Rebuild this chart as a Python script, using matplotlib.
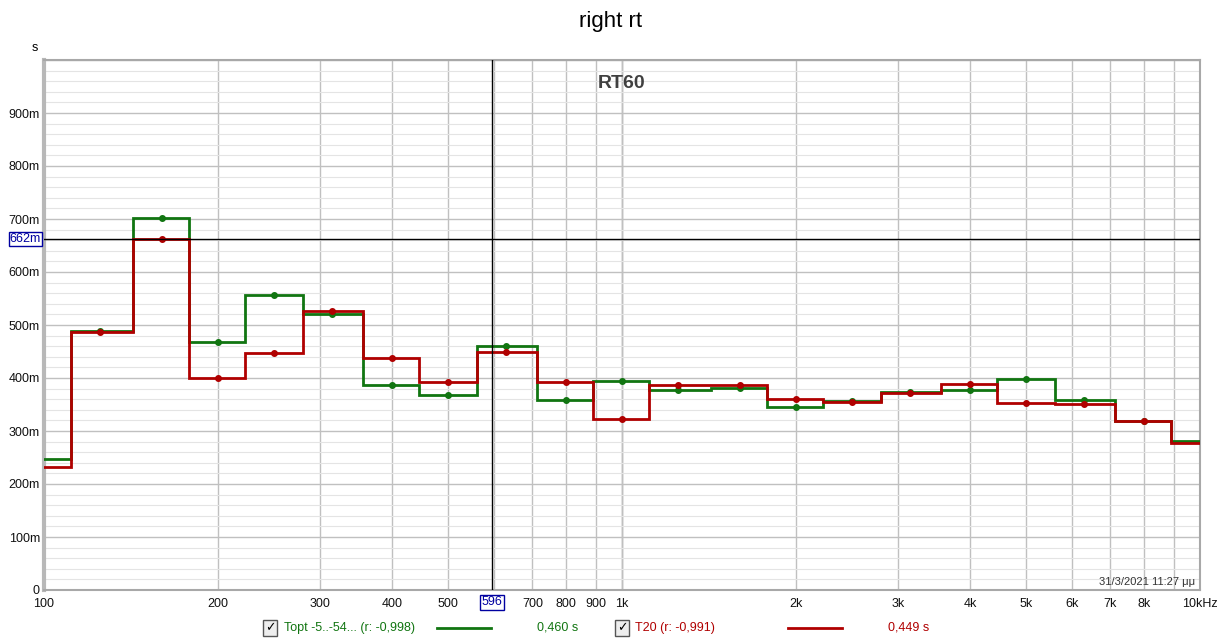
import numpy as np
import matplotlib
matplotlib.use('Agg')
import matplotlib.pyplot as plt
from matplotlib.lines import Line2D

plt.rcParams['font.family'] = ['Liberation Sans', 'DejaVu Sans']

# third-octave band centres (Hz)
bands = [100, 125, 160, 200, 250, 315, 400, 500, 630, 800, 1000, 1250, 1600,
         2000, 2500, 3150, 4000, 5000, 6300, 8000, 10000]
# RT60 in seconds
topt = [0.248, 0.489, 0.702, 0.468, 0.557, 0.521, 0.386, 0.367, 0.461, 0.358, 0.394,
        0.377, 0.382, 0.346, 0.356, 0.374, 0.377, 0.399, 0.358, 0.318, 0.282]
t20 = [0.233, 0.486, 0.662, 0.400, 0.447, 0.527, 0.438, 0.392, 0.449, 0.393, 0.323,
       0.387, 0.387, 0.361, 0.355, 0.371, 0.388, 0.353, 0.351, 0.318, 0.278]

xticks = [100, 200, 300, 400, 500, 600, 700, 800, 900, 1000, 2000, 3000, 4000,
          5000, 6000, 7000, 8000, 9000, 10000]
xlabels = ['100', '200', '300', '400', '500', '', '700', '800', '900', '1k', '2k', '3k',
           '4k', '5k', '6k', '7k', '8k', '', '10kHz']
yticks = [0, 0.1, 0.2, 0.3, 0.4, 0.5, 0.6, 0.7, 0.8, 0.9]
ylabels = ['0', '100m', '200m', '300m', '400m', '500m', '600m', '700m', '800m', '900m']

cursor_f = 596
cursor_v = 0.662

green = '#117511'
red = '#b00000'

fig = plt.figure(figsize=(12.22, 6.42), dpi=100)
ax = fig.add_axes([44 / 1222, 52 / 642, 1156 / 1222, 530 / 642])

# band edges for stair steps
c = np.array(bands, dtype=float)
edges = np.concatenate([c * 10 ** -0.05, [c[-1] * 10 ** 0.05]])

ax.stairs(topt, edges, color=green, lw=2, baseline=None, zorder=4)
ax.plot(bands[1:-1], topt[1:-1], 'o', color=green, ms=4, zorder=5)
ax.stairs(t20, edges, color=red, lw=2, baseline=None, zorder=6)
ax.plot(bands[1:-1], t20[1:-1], 'o', color=red, ms=4, zorder=7)

ax.set_xscale('log')
ax.set_xlim(100, 10000)
ax.set_ylim(0, 1.0)
ax.set_xticks(xticks)
ax.set_xticklabels(xlabels)
ax.xaxis.set_minor_locator(matplotlib.ticker.NullLocator())
ax.set_yticks(yticks)
ax.set_yticklabels(ylabels)
ax.set_yticks(np.arange(0, 1.0, 0.02), minor=True)
ax.tick_params(axis='both', which='both', length=0, labelsize=9, colors='#111111')
ax.tick_params(axis='x', pad=6)
ax.tick_params(axis='y', pad=3)

ax.grid(True, which='major', axis='both', color='#c0c0c0', lw=1)
ax.grid(True, which='minor', axis='y', color='#e4e4e4', lw=0.8)
ax.axvline(1000, color='#999999', lw=1, zorder=1)
ax.axhline(1.0, color='#c0c0c0', lw=1)
for s in ax.spines.values():
    s.set_color('#a8a8a8')
    s.set_linewidth(1.5)
ax.spines['left'].set_linewidth(3)
ax.spines['left'].set_color('#b8b8b8')

# cursor
ax.axvline(cursor_f, color='black', lw=1, zorder=8)
ax.axhline(cursor_v, color='black', lw=1, zorder=8)
box = dict(boxstyle='square,pad=0.1', fc='white', ec='#0000a0', lw=1)
ax.text(cursor_f, -0.012, str(cursor_f), transform=ax.get_xaxis_transform(),
        ha='center', va='top', fontsize=9, color='#0000a0', bbox=box)
ax.text(-0.0025, cursor_v, '662m', transform=ax.get_yaxis_transform(),
        ha='right', va='center', fontsize=9, color='#0000a0', bbox=box)

ax.text(0.5, 0.972, 'RT60', transform=ax.transAxes, ha='center', va='top',
        fontsize=14, fontweight='bold', color='#404040')
ax.text(0.996, 0.006, '31/3/2021 11:27 μμ', transform=ax.transAxes, ha='right',
        va='bottom', fontsize=8, color='#333333')

fig.text(611 / 1222, 1 - 22 / 642, 'right rt', ha='center', va='center', fontsize=16)
fig.text(35 / 1222, 1 - 48 / 642, 's', ha='center', va='center', fontsize=9)

# legend row
ly = 1 - 628 / 642
chk = dict(boxstyle='square,pad=0.15', fc='#eeeeee', ec='#555555', lw=1)
fig.text(270 / 1222, ly, '✓', ha='center', va='center', fontsize=9,
         fontweight='bold', family=['DejaVu Sans'], bbox=chk)
fig.text(284 / 1222, ly, 'Topt -5..-54... (r: -0,998)', ha='left', va='center',
         fontsize=9, color=green)
fig.add_artist(Line2D([437 / 1222, 491 / 1222], [ly, ly], color=green, lw=2))
fig.text(537 / 1222, ly, '0,460 s', ha='left', va='center', fontsize=9, color=green)
fig.text(622 / 1222, ly, '✓', ha='center', va='center', fontsize=9,
         fontweight='bold', family=['DejaVu Sans'], bbox=chk)
fig.text(635 / 1222, ly, 'T20 (r: -0,991)', ha='left', va='center',
         fontsize=9, color=red)
fig.add_artist(Line2D([788 / 1222, 842 / 1222], [ly, ly], color=red, lw=2))
fig.text(888 / 1222, ly, '0,449 s', ha='left', va='center', fontsize=9, color=red)

fig.savefig('out.png', dpi=100)
